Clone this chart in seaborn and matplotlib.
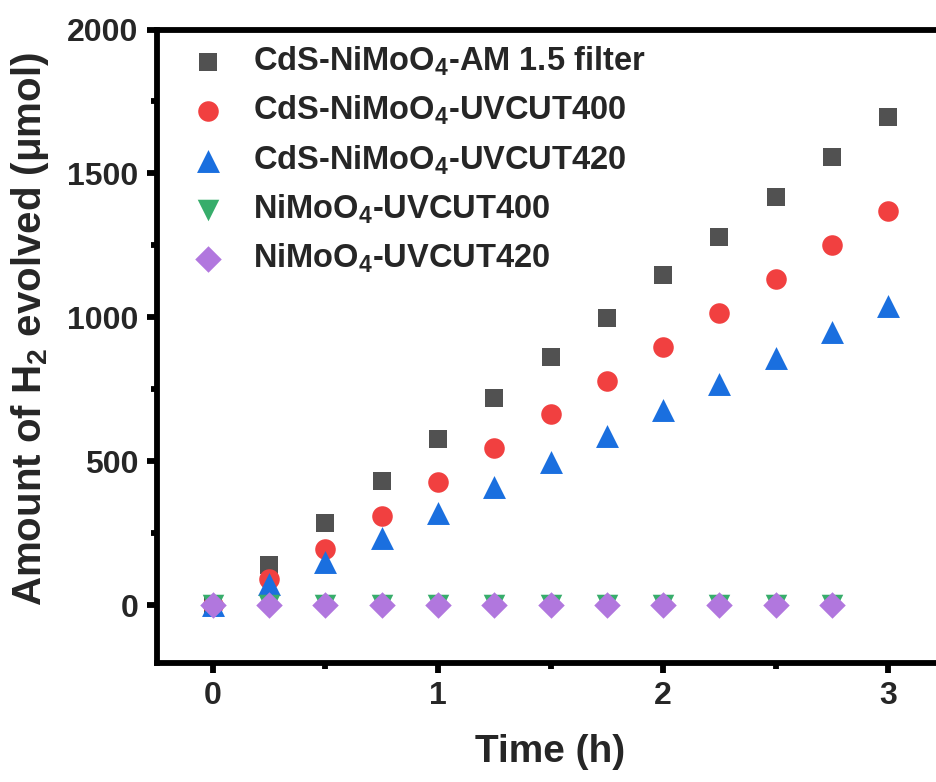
import matplotlib
matplotlib.use("Agg")
import matplotlib.pyplot as plt
import seaborn as sns
from matplotlib.ticker import MultipleLocator

# ---- data ----
time_full = [0, 0.25, 0.5, 0.75, 1.0, 1.25, 1.5, 1.75, 2.0, 2.25, 2.5, 2.75, 3.0]
time_short = [0, 0.25, 0.5, 0.75, 1.0, 1.25, 1.5, 1.75, 2.0, 2.25, 2.5, 2.75]
cds_am15 = [0, 139, 286, 432, 577, 719, 862, 999, 1146, 1280, 1418, 1556, 1697]
cds_uv400 = [0, 91, 197, 312, 428, 546, 664, 780, 897, 1014, 1133, 1251, 1369]
cds_uv420 = [0, 73, 150, 235, 322, 411, 499, 590, 678, 768, 859, 950, 1040]
nimo_uv400 = [0, 0, 0, 0, 0, 0, 0, 0, 0, 0, 0, 0]
nimo_uv420 = [0, 0, 0, 0, 0, 0, 0, 0, 0, 0, 0, 0]
labels = [
    "CdS-NiMoO$_4$-AM 1.5 filter",
    "CdS-NiMoO$_4$-UVCUT400",
    "CdS-NiMoO$_4$-UVCUT420",
    "NiMoO$_4$-UVCUT400",
    "NiMoO$_4$-UVCUT420",
]
x_ticks = [0, 1, 2, 3]
y_ticks = [0, 500, 1000, 1500, 2000]

sns.set_theme(style="ticks")
plt.rcParams["font.family"] = ["Liberation Sans", "DejaVu Sans"]
plt.rcParams["font.weight"] = "bold"
plt.rcParams["mathtext.default"] = "regular"

fig = plt.figure(figsize=(9.37, 7.82), dpi=100)
W, H = 937, 782
ax_left, ax_right, ax_top, ax_bottom = 156.5, 944.7, 29.5, 663
ax = fig.add_axes([ax_left / W, (H - ax_bottom) / H,
                   (ax_right - ax_left) / W, (ax_bottom - ax_top) / H])

series = [
    (time_full, cds_am15, "s", 13.5, "#515151"),
    (time_full, cds_uv400, "o", 14.8, "#F14040"),
    (time_full, cds_uv420, "^", 16.5, "#1A6FDF"),
    (time_short, nimo_uv400, "v", 15.5, "#37AD6B"),
    (time_short, nimo_uv420, "D", 13.5, "#B177DE"),
]
for (t, v, m, ms, c), lab in zip(series, labels):
    sns.scatterplot(x=t, y=v, marker=m, s=ms ** 2, color=c, linewidth=0,
                    label=lab, ax=ax, zorder=3, clip_on=False)

ax.set_xlim(-0.25, 3.25)
ax.set_ylim(-200, 2000)
ax.set_xticks(x_ticks)
ax.set_yticks(y_ticks)
ax.xaxis.set_minor_locator(MultipleLocator(0.5))
ax.yaxis.set_minor_locator(MultipleLocator(250))

for side in ["left", "bottom", "top"]:
    ax.spines[side].set_linewidth(4.2)
    ax.spines[side].set_color("black")
ax.spines["right"].set_visible(False)

ax.tick_params(axis="both", which="major", direction="out", length=7, width=4.2,
               labelsize=23, pad=6, color="black")
ax.tick_params(axis="both", which="minor", direction="out", length=4, width=4.2,
               color="black")
ax.tick_params(axis="x", which="both", top=False)
for lbl in ax.get_xticklabels() + ax.get_yticklabels():
    lbl.set_fontweight("bold")

ax.set_xlabel("Time (h)", fontsize=28, fontweight="bold")
ax.set_ylabel("Amount of H$_2$ evolved (\u03bcmol)", fontsize=29, fontweight="bold")
ax.xaxis.set_label_coords((550 - ax_left) / (ax_right - ax_left),
                          (ax_bottom - 752) / (ax_bottom - ax_top))
ax.xaxis.label.set_va("center")
ax.yaxis.set_label_coords((30 - ax_left) / (ax_right - ax_left),
                          (ax_bottom - 329) / (ax_bottom - ax_top))
ax.yaxis.label.set_va("center")

leg = ax.legend(loc="upper left",
                bbox_to_anchor=((166 - ax_left) / (ax_right - ax_left),
                                1.0 + 8 / (ax_bottom - ax_top)),
                frameon=False, prop={"size": 23.5, "weight": "bold"},
                handlelength=1.2, handletextpad=0.77, labelspacing=0.49,
                borderaxespad=0.3, scatterpoints=1)

fig.savefig("out.png", dpi=100)
